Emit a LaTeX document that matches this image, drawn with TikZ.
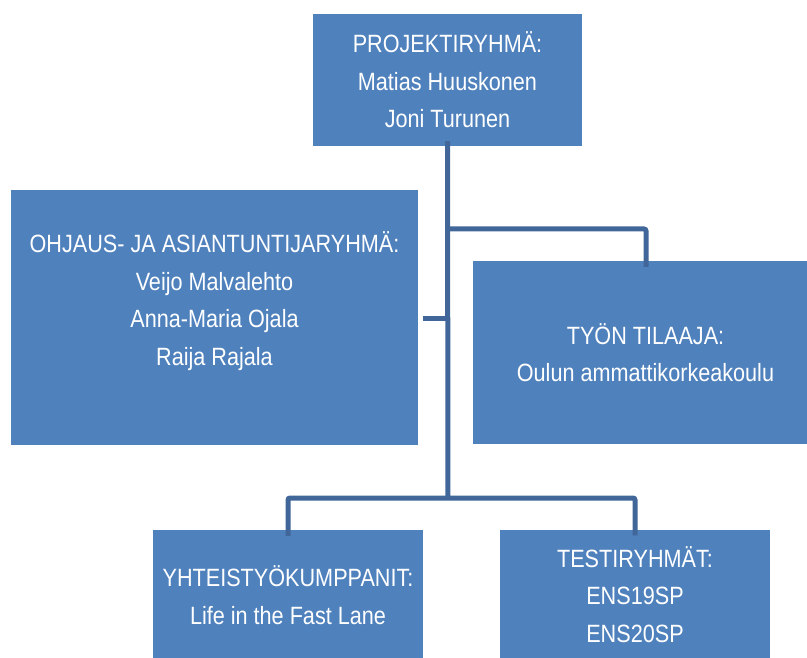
\documentclass[tikz,border=0pt]{standalone}
\usepackage{fontspec}
\setmainfont{Liberation Sans}[FakeStretch=0.865]
\definecolor{boxblue}{HTML}{4F81BD}
\definecolor{linkblue}{HTML}{41679A}
\begin{document}
\begin{tikzpicture}[x=1pt,y=-1pt,
  orgbox/.style={fill=boxblue, draw=none, text=white, align=center, inner sep=0pt,
    font=\fontsize{25}{37.5}\selectfont},
  link/.style={draw=linkblue, line width=5pt, rounded corners=2pt}]
\useasboundingbox (0,0) rectangle (807,658);
\begin{scope}
\clip (0,0) rectangle (807,658);
\node[orgbox, minimum width=269pt, minimum height=132pt] (top) at (447.5,80)
  {PROJEKTIRYHMÄ:\\Matias Huuskonen\\Joni Turunen};
\node[orgbox, minimum width=407pt, minimum height=255pt] (ohj) at (214.5,317.5)
  {OHJAUS- JA ASIANTUNTIJARYHMÄ:\\Veijo Malvalehto\\Anna-Maria Ojala\\Raija Rajala\\\mbox{}};
\node[orgbox, minimum width=345pt, minimum height=183pt] (til) at (645.5,352.5)
  {TYÖN TILAAJA:\\Oulun ammattikorkeakoulu};
\node[orgbox, minimum width=270pt, minimum height=130pt] (yht) at (288,595)
  {YHTEISTYÖKUMPPANIT:\\Life in the Fast Lane};
\node[orgbox, minimum width=270pt, minimum height=130pt] (tes) at (635,594.5)
  {TESTIRYHMÄT:\\ENS19SP\\ENS20SP};
\end{scope}
\coordinate (hubtop) at ([yshift=5pt]top.south);
\coordinate (hubR) at (448,229);
\coordinate (hubL) at (448,318);
\coordinate (hubB) at (448,498);
\draw[link] (hubtop) -- (hubB);
\draw[link] (hubR) -| ([yshift=-6pt]til.north -| 646,0);
\draw[link] ([xshift=5pt]ohj.east |- hubL) -- (hubL);
\draw[link] (hubB) -| ([yshift=-6pt]yht.north);
\draw[link] (hubB) -| ([yshift=-6pt]tes.north);
\end{tikzpicture}
\end{document}
